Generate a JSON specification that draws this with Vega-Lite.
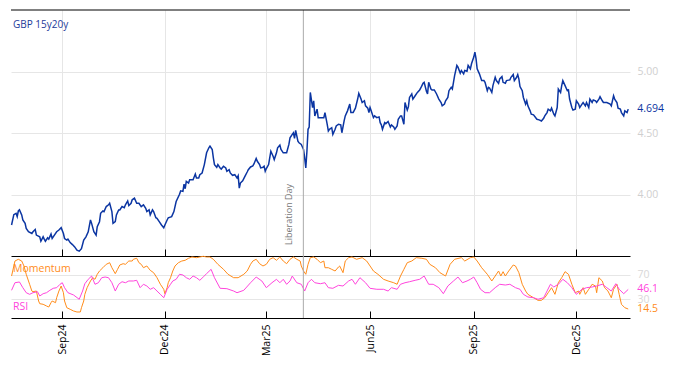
{
  "$schema": "https://vega.github.io/schema/vega-lite/v6.json",
  "padding": {"left": 8, "top": 9, "right": 5, "bottom": 5},
  "spacing": 0,
  "bounds": "flush",
  "config": {"view": {"stroke": null}, "font": "Open Sans"},
  "datasets": {
    "main": [
      {"date":"2024-07-18","v":3.752},{"date":"2024-07-20","v":3.836},{"date":"2024-07-22","v":3.847},{"date":"2024-07-23","v":3.820},{"date":"2024-07-24","v":3.866},{"date":"2024-07-25","v":3.875},{"date":"2024-07-27","v":3.834},{"date":"2024-07-28","v":3.793},{"date":"2024-07-30","v":3.765},{"date":"2024-07-31","v":3.724},
      {"date":"2024-08-02","v":3.697},{"date":"2024-08-05","v":3.683},{"date":"2024-08-06","v":3.697},{"date":"2024-08-08","v":3.716},{"date":"2024-08-09","v":3.670},{"date":"2024-08-12","v":3.656},{"date":"2024-08-13","v":3.620},{"date":"2024-08-15","v":3.656},{"date":"2024-08-16","v":3.637},{"date":"2024-08-17","v":3.620},{"date":"2024-08-19","v":3.648},{"date":"2024-08-20","v":3.637},{"date":"2024-08-22","v":3.678},{"date":"2024-08-23","v":3.642},{"date":"2024-08-25","v":3.670},{"date":"2024-08-27","v":3.697},{"date":"2024-08-29","v":3.711},{"date":"2024-08-31","v":3.730},
      {"date":"2024-09-02","v":3.683},{"date":"2024-09-03","v":3.642},{"date":"2024-09-05","v":3.629},{"date":"2024-09-06","v":3.637},{"date":"2024-09-08","v":3.609},{"date":"2024-09-10","v":3.593},{"date":"2024-09-12","v":3.574},{"date":"2024-09-14","v":3.547},{"date":"2024-09-16","v":3.539},{"date":"2024-09-18","v":3.560},{"date":"2024-09-20","v":3.629},{"date":"2024-09-22","v":3.656},{"date":"2024-09-24","v":3.697},{"date":"2024-09-26","v":3.793},{"date":"2024-09-27","v":3.765},{"date":"2024-09-29","v":3.697},
      {"date":"2024-10-01","v":3.670},{"date":"2024-10-02","v":3.738},{"date":"2024-10-04","v":3.779},{"date":"2024-10-05","v":3.847},{"date":"2024-10-07","v":3.866},{"date":"2024-10-08","v":3.861},{"date":"2024-10-10","v":3.902},{"date":"2024-10-12","v":3.916},{"date":"2024-10-13","v":3.929},{"date":"2024-10-15","v":3.861},{"date":"2024-10-16","v":3.765},{"date":"2024-10-18","v":3.779},{"date":"2024-10-19","v":3.834},{"date":"2024-10-21","v":3.875},{"date":"2024-10-22","v":3.875},{"date":"2024-10-24","v":3.902},{"date":"2024-10-26","v":3.893},{"date":"2024-10-27","v":3.916},{"date":"2024-10-29","v":3.948},{"date":"2024-10-30","v":3.910},
      {"date":"2024-11-01","v":3.929},{"date":"2024-11-02","v":3.957},{"date":"2024-11-04","v":3.970},{"date":"2024-11-06","v":3.929},{"date":"2024-11-08","v":3.929},{"date":"2024-11-10","v":3.902},{"date":"2024-11-12","v":3.916},{"date":"2024-11-14","v":3.888},{"date":"2024-11-15","v":3.861},{"date":"2024-11-17","v":3.875},{"date":"2024-11-18","v":3.834},{"date":"2024-11-20","v":3.875},{"date":"2024-11-21","v":3.861},{"date":"2024-11-23","v":3.811},{"date":"2024-11-24","v":3.806},{"date":"2024-11-26","v":3.779},{"date":"2024-11-28","v":3.752},{"date":"2024-11-30","v":3.730},
      {"date":"2024-12-01","v":3.752},{"date":"2024-12-03","v":3.793},{"date":"2024-12-04","v":3.811},{"date":"2024-12-07","v":3.820},{"date":"2024-12-09","v":3.861},{"date":"2024-12-11","v":3.943},{"date":"2024-12-14","v":4.002},{"date":"2024-12-15","v":4.030},{"date":"2024-12-17","v":4.025},{"date":"2024-12-18","v":4.084},{"date":"2024-12-19","v":4.047},{"date":"2024-12-20","v":4.107},{"date":"2024-12-22","v":4.093},{"date":"2024-12-23","v":4.120},{"date":"2024-12-26","v":4.120},{"date":"2024-12-28","v":4.166},{"date":"2024-12-29","v":4.134},{"date":"2024-12-31","v":4.134},
      {"date":"2025-01-01","v":4.161},{"date":"2025-01-03","v":4.175},{"date":"2025-01-05","v":4.243},{"date":"2025-01-07","v":4.339},{"date":"2025-01-09","v":4.380},{"date":"2025-01-10","v":4.393},{"date":"2025-01-12","v":4.366},{"date":"2025-01-13","v":4.298},{"date":"2025-01-14","v":4.243},{"date":"2025-01-16","v":4.221},{"date":"2025-01-17","v":4.243},{"date":"2025-01-19","v":4.216},{"date":"2025-01-20","v":4.207},{"date":"2025-01-22","v":4.230},{"date":"2025-01-24","v":4.216},{"date":"2025-01-25","v":4.189},{"date":"2025-01-27","v":4.202},{"date":"2025-01-28","v":4.175},{"date":"2025-01-30","v":4.156},
      {"date":"2025-02-01","v":4.161},{"date":"2025-02-03","v":4.134},{"date":"2025-02-04","v":4.153},{"date":"2025-02-05","v":4.052},{"date":"2025-02-06","v":4.093},{"date":"2025-02-08","v":4.112},{"date":"2025-02-10","v":4.148},{"date":"2025-02-12","v":4.183},{"date":"2025-02-13","v":4.202},{"date":"2025-02-15","v":4.224},{"date":"2025-02-17","v":4.232},{"date":"2025-02-18","v":4.248},{"date":"2025-02-20","v":4.293},{"date":"2025-02-21","v":4.270},{"date":"2025-02-23","v":4.243},{"date":"2025-02-24","v":4.216},{"date":"2025-02-26","v":4.221},{"date":"2025-02-27","v":4.230},{"date":"2025-02-28","v":4.189},
      {"date":"2025-03-01","v":4.211},{"date":"2025-03-03","v":4.243},{"date":"2025-03-04","v":4.298},{"date":"2025-03-05","v":4.352},{"date":"2025-03-07","v":4.311},{"date":"2025-03-08","v":4.284},{"date":"2025-03-10","v":4.339},{"date":"2025-03-11","v":4.380},{"date":"2025-03-13","v":4.402},{"date":"2025-03-14","v":4.366},{"date":"2025-03-16","v":4.339},{"date":"2025-03-18","v":4.339},{"date":"2025-03-19","v":4.339},{"date":"2025-03-21","v":4.407},{"date":"2025-03-22","v":4.461},{"date":"2025-03-24","v":4.489},{"date":"2025-03-25","v":4.502},{"date":"2025-03-26","v":4.457},{"date":"2025-03-27","v":4.522},{"date":"2025-03-29","v":4.434},{"date":"2025-03-30","v":4.420},
      {"date":"2025-04-01","v":4.407},{"date":"2025-04-03","v":4.366},{"date":"2025-04-04","v":4.298},{"date":"2025-04-05","v":4.216},{"date":"2025-04-06","v":4.352},{"date":"2025-04-07","v":4.530},{"date":"2025-04-08","v":4.549},{"date":"2025-04-09","v":4.830},{"date":"2025-04-11","v":4.707},{"date":"2025-04-12","v":4.762},{"date":"2025-04-13","v":4.639},{"date":"2025-04-15","v":4.694},{"date":"2025-04-16","v":4.625},{"date":"2025-04-18","v":4.625},{"date":"2025-04-21","v":4.625},{"date":"2025-04-22","v":4.666},{"date":"2025-04-24","v":4.571},{"date":"2025-04-25","v":4.516},{"date":"2025-04-26","v":4.530},{"date":"2025-04-28","v":4.543},{"date":"2025-04-29","v":4.489},
      {"date":"2025-05-01","v":4.530},{"date":"2025-05-02","v":4.557},{"date":"2025-05-04","v":4.571},{"date":"2025-05-06","v":4.566},{"date":"2025-05-07","v":4.502},{"date":"2025-05-09","v":4.598},{"date":"2025-05-10","v":4.639},{"date":"2025-05-12","v":4.680},{"date":"2025-05-14","v":4.735},{"date":"2025-05-15","v":4.666},{"date":"2025-05-17","v":4.666},{"date":"2025-05-19","v":4.702},{"date":"2025-05-21","v":4.776},{"date":"2025-05-22","v":4.822},{"date":"2025-05-24","v":4.776},{"date":"2025-05-25","v":4.748},{"date":"2025-05-27","v":4.762},{"date":"2025-05-28","v":4.721},{"date":"2025-05-30","v":4.702},{"date":"2025-05-31","v":4.666},
      {"date":"2025-06-01","v":4.707},{"date":"2025-06-02","v":4.680},{"date":"2025-06-04","v":4.625},{"date":"2025-06-05","v":4.639},{"date":"2025-06-07","v":4.625},{"date":"2025-06-09","v":4.631},{"date":"2025-06-10","v":4.584},{"date":"2025-06-11","v":4.566},{"date":"2025-06-12","v":4.530},{"date":"2025-06-14","v":4.584},{"date":"2025-06-15","v":4.576},{"date":"2025-06-17","v":4.593},{"date":"2025-06-19","v":4.549},{"date":"2025-06-20","v":4.566},{"date":"2025-06-22","v":4.549},{"date":"2025-06-23","v":4.530},{"date":"2025-06-25","v":4.557},{"date":"2025-06-26","v":4.612},{"date":"2025-06-28","v":4.639},{"date":"2025-06-29","v":4.639},
      {"date":"2025-07-01","v":4.571},{"date":"2025-07-02","v":4.748},{"date":"2025-07-04","v":4.686},{"date":"2025-07-05","v":4.713},{"date":"2025-07-06","v":4.789},{"date":"2025-07-08","v":4.817},{"date":"2025-07-09","v":4.776},{"date":"2025-07-11","v":4.803},{"date":"2025-07-13","v":4.830},{"date":"2025-07-15","v":4.850},{"date":"2025-07-16","v":4.866},{"date":"2025-07-18","v":4.904},{"date":"2025-07-19","v":4.912},{"date":"2025-07-21","v":4.839},{"date":"2025-07-22","v":4.817},{"date":"2025-07-23","v":4.912},{"date":"2025-07-25","v":4.858},{"date":"2025-07-26","v":4.850},{"date":"2025-07-28","v":4.850},{"date":"2025-07-30","v":4.817},
      {"date":"2025-08-01","v":4.776},{"date":"2025-08-03","v":4.748},{"date":"2025-08-04","v":4.721},{"date":"2025-08-06","v":4.735},{"date":"2025-08-07","v":4.762},{"date":"2025-08-09","v":4.789},{"date":"2025-08-10","v":4.844},{"date":"2025-08-12","v":4.871},{"date":"2025-08-13","v":4.858},{"date":"2025-08-14","v":4.912},{"date":"2025-08-15","v":4.967},{"date":"2025-08-17","v":5.049},{"date":"2025-08-18","v":5.035},{"date":"2025-08-20","v":4.986},{"date":"2025-08-21","v":5.008},{"date":"2025-08-23","v":4.981},{"date":"2025-08-24","v":5.008},{"date":"2025-08-26","v":5.002},{"date":"2025-08-27","v":5.049},{"date":"2025-08-29","v":5.022},{"date":"2025-08-30","v":5.063},
      {"date":"2025-09-01","v":5.117},{"date":"2025-09-02","v":5.158},{"date":"2025-09-03","v":5.104},{"date":"2025-09-04","v":5.022},{"date":"2025-09-06","v":4.981},{"date":"2025-09-08","v":4.926},{"date":"2025-09-10","v":4.926},{"date":"2025-09-11","v":4.912},{"date":"2025-09-13","v":4.844},{"date":"2025-09-14","v":4.871},{"date":"2025-09-15","v":4.866},{"date":"2025-09-17","v":4.830},{"date":"2025-09-18","v":4.885},{"date":"2025-09-20","v":4.953},{"date":"2025-09-21","v":4.926},{"date":"2025-09-23","v":4.904},{"date":"2025-09-24","v":4.940},{"date":"2025-09-26","v":4.959},{"date":"2025-09-27","v":4.912},{"date":"2025-09-29","v":4.904},{"date":"2025-09-30","v":4.926},
      {"date":"2025-10-03","v":4.932},{"date":"2025-10-04","v":4.953},{"date":"2025-10-06","v":4.975},{"date":"2025-10-07","v":4.926},{"date":"2025-10-09","v":4.953},{"date":"2025-10-10","v":4.975},{"date":"2025-10-11","v":4.940},{"date":"2025-10-12","v":4.877},{"date":"2025-10-14","v":4.844},{"date":"2025-10-15","v":4.789},{"date":"2025-10-17","v":4.735},{"date":"2025-10-18","v":4.762},{"date":"2025-10-19","v":4.721},{"date":"2025-10-21","v":4.680},{"date":"2025-10-22","v":4.653},{"date":"2025-10-24","v":4.648},{"date":"2025-10-27","v":4.612},{"date":"2025-10-29","v":4.607},{"date":"2025-10-31","v":4.598},
      {"date":"2025-11-02","v":4.620},{"date":"2025-11-03","v":4.639},{"date":"2025-11-05","v":4.666},{"date":"2025-11-06","v":4.694},{"date":"2025-11-08","v":4.680},{"date":"2025-11-09","v":4.702},{"date":"2025-11-11","v":4.653},{"date":"2025-11-12","v":4.639},{"date":"2025-11-14","v":4.707},{"date":"2025-11-15","v":4.858},{"date":"2025-11-17","v":4.830},{"date":"2025-11-18","v":4.885},{"date":"2025-11-19","v":4.926},{"date":"2025-11-21","v":4.885},{"date":"2025-11-23","v":4.844},{"date":"2025-11-24","v":4.850},{"date":"2025-11-25","v":4.776},{"date":"2025-11-27","v":4.707},{"date":"2025-11-28","v":4.686},{"date":"2025-11-30","v":4.694},
      {"date":"2025-12-01","v":4.762},{"date":"2025-12-03","v":4.735},{"date":"2025-12-04","v":4.707},{"date":"2025-12-06","v":4.735},{"date":"2025-12-07","v":4.748},{"date":"2025-12-09","v":4.721},{"date":"2025-12-10","v":4.748},{"date":"2025-12-12","v":4.707},{"date":"2025-12-13","v":4.776},{"date":"2025-12-15","v":4.748},{"date":"2025-12-16","v":4.768},{"date":"2025-12-18","v":4.762},{"date":"2025-12-19","v":4.748},{"date":"2025-12-21","v":4.776},{"date":"2025-12-22","v":4.795},{"date":"2025-12-24","v":4.762},{"date":"2025-12-25","v":4.748},{"date":"2025-12-28","v":4.748},{"date":"2025-12-31","v":4.735},
      {"date":"2026-01-01","v":4.721},{"date":"2026-01-03","v":4.803},{"date":"2026-01-04","v":4.776},{"date":"2026-01-06","v":4.748},{"date":"2026-01-07","v":4.702},{"date":"2026-01-09","v":4.694},{"date":"2026-01-10","v":4.666},{"date":"2026-01-12","v":4.639},{"date":"2026-01-13","v":4.680},{"date":"2026-01-15","v":4.666},{"date":"2026-01-16","v":4.694}
    ],
    "mom": [
      {"date":"2024-07-18","v":67.7},{"date":"2024-07-21","v":91.9},{"date":"2024-07-24","v":94.7},{"date":"2024-07-27","v":91.9},{"date":"2024-07-29","v":83.9},{"date":"2024-07-31","v":70.5},{"date":"2024-08-03","v":54.4},{"date":"2024-08-05","v":43.5},{"date":"2024-08-06","v":42.4},{"date":"2024-08-09","v":43.5},{"date":"2024-08-11","v":27.4},{"date":"2024-08-12","v":23.1},{"date":"2024-08-15","v":22.1},{"date":"2024-08-18","v":19.4},{"date":"2024-08-20","v":17.7},{"date":"2024-08-22","v":24.7},{"date":"2024-08-23","v":27.4},{"date":"2024-08-26","v":24.7},{"date":"2024-08-27","v":32.7},{"date":"2024-08-29","v":43.5},{"date":"2024-08-31","v":51.6},
      {"date":"2024-09-02","v":40.8},{"date":"2024-09-03","v":27.4},{"date":"2024-09-05","v":16.6},{"date":"2024-09-08","v":14.0},{"date":"2024-09-11","v":11.3},{"date":"2024-09-14","v":9.7},{"date":"2024-09-17","v":9.7},{"date":"2024-09-18","v":16.6},{"date":"2024-09-20","v":27.4},{"date":"2024-09-21","v":38.2},{"date":"2024-09-23","v":48.9},{"date":"2024-09-26","v":59.7},{"date":"2024-09-28","v":65.0},{"date":"2024-09-30","v":62.4},
      {"date":"2024-10-02","v":70.5},{"date":"2024-10-04","v":75.8},{"date":"2024-10-07","v":81.1},{"date":"2024-10-10","v":86.6},{"date":"2024-10-13","v":89.2},{"date":"2024-10-15","v":81.1},{"date":"2024-10-18","v":71.5},{"date":"2024-10-20","v":78.5},{"date":"2024-10-22","v":85.5},{"date":"2024-10-25","v":87.6},{"date":"2024-10-27","v":86.6},{"date":"2024-10-30","v":91.9},
      {"date":"2024-11-02","v":91.9},{"date":"2024-11-03","v":94.7},{"date":"2024-11-06","v":96.3},{"date":"2024-11-08","v":89.2},{"date":"2024-11-10","v":86.6},{"date":"2024-11-12","v":81.1},{"date":"2024-11-15","v":83.9},{"date":"2024-11-18","v":76.9},{"date":"2024-11-21","v":73.1},{"date":"2024-11-24","v":65.0},{"date":"2024-11-27","v":54.4},{"date":"2024-11-30","v":46.3},
      {"date":"2024-12-01","v":39.2},{"date":"2024-12-03","v":48.9},{"date":"2024-12-04","v":56.9},{"date":"2024-12-06","v":65.0},{"date":"2024-12-08","v":75.8},{"date":"2024-12-10","v":83.9},{"date":"2024-12-13","v":89.2},{"date":"2024-12-16","v":91.9},{"date":"2024-12-19","v":93.1},{"date":"2024-12-22","v":96.3},{"date":"2024-12-25","v":98.4},{"date":"2024-12-29","v":97.3},
      {"date":"2025-01-01","v":98.4},{"date":"2025-01-04","v":99.5},{"date":"2025-01-07","v":98.4},{"date":"2025-01-10","v":98.4},{"date":"2025-01-13","v":94.7},{"date":"2025-01-17","v":86.6},{"date":"2025-01-22","v":78.5},{"date":"2025-01-26","v":70.5},{"date":"2025-01-31","v":65.0},
      {"date":"2025-02-04","v":65.0},{"date":"2025-02-09","v":70.5},{"date":"2025-02-12","v":75.8},{"date":"2025-02-15","v":86.6},{"date":"2025-02-17","v":91.9},{"date":"2025-02-20","v":94.7},{"date":"2025-02-23","v":87.6},{"date":"2025-02-26","v":83.9},
      {"date":"2025-03-01","v":86.6},{"date":"2025-03-04","v":94.7},{"date":"2025-03-07","v":97.3},{"date":"2025-03-10","v":93.1},{"date":"2025-03-13","v":98.4},{"date":"2025-03-16","v":91.9},{"date":"2025-03-19","v":87.6},{"date":"2025-03-22","v":94.7},{"date":"2025-03-25","v":98.4},{"date":"2025-03-28","v":94.7},{"date":"2025-03-31","v":91.9},
      {"date":"2025-04-01","v":83.9},{"date":"2025-04-03","v":75.8},{"date":"2025-04-05","v":70.5},{"date":"2025-04-07","v":86.6},{"date":"2025-04-09","v":97.3},{"date":"2025-04-12","v":98.4},{"date":"2025-04-15","v":94.7},{"date":"2025-04-18","v":89.2},{"date":"2025-04-21","v":91.9},{"date":"2025-04-22","v":81.1},{"date":"2025-04-25","v":81.1},{"date":"2025-04-28","v":78.5},
      {"date":"2025-05-01","v":75.8},{"date":"2025-05-04","v":82.3},{"date":"2025-05-05","v":83.9},{"date":"2025-05-08","v":73.1},{"date":"2025-05-10","v":91.9},{"date":"2025-05-13","v":97.3},{"date":"2025-05-16","v":98.4},{"date":"2025-05-20","v":94.7},{"date":"2025-05-25","v":97.3},{"date":"2025-05-29","v":91.9},
      {"date":"2025-06-01","v":83.9},{"date":"2025-06-04","v":75.8},{"date":"2025-06-08","v":70.5},{"date":"2025-06-13","v":62.4},{"date":"2025-06-17","v":59.7},{"date":"2025-06-22","v":56.9},{"date":"2025-06-25","v":54.4},{"date":"2025-06-28","v":67.7},
      {"date":"2025-07-01","v":78.5},{"date":"2025-07-04","v":89.2},{"date":"2025-07-08","v":91.9},{"date":"2025-07-12","v":97.3},{"date":"2025-07-17","v":96.3},{"date":"2025-07-21","v":94.7},{"date":"2025-07-24","v":86.6},{"date":"2025-07-29","v":81.1},
      {"date":"2025-08-02","v":73.1},{"date":"2025-08-07","v":67.7},{"date":"2025-08-11","v":86.6},{"date":"2025-08-15","v":94.7},{"date":"2025-08-21","v":97.3},{"date":"2025-08-24","v":91.9},{"date":"2025-08-29","v":97.3},
      {"date":"2025-09-01","v":98.4},{"date":"2025-09-04","v":91.9},{"date":"2025-09-08","v":81.1},{"date":"2025-09-13","v":70.5},{"date":"2025-09-17","v":59.7},{"date":"2025-09-20","v":67.7},{"date":"2025-09-23","v":75.8},{"date":"2025-09-25","v":67.7},{"date":"2025-09-27","v":74.7},{"date":"2025-09-29","v":67.7},
      {"date":"2025-10-02","v":75.8},{"date":"2025-10-06","v":85.5},{"date":"2025-10-08","v":83.9},{"date":"2025-10-11","v":73.1},{"date":"2025-10-14","v":54.4},{"date":"2025-10-17","v":43.5},{"date":"2025-10-19","v":38.2},{"date":"2025-10-24","v":32.7},{"date":"2025-10-28","v":28.5},{"date":"2025-10-31","v":28.5},
      {"date":"2025-11-03","v":32.7},{"date":"2025-11-06","v":40.8},{"date":"2025-11-09","v":48.9},{"date":"2025-11-12","v":38.2},{"date":"2025-11-15","v":56.9},{"date":"2025-11-18","v":65.0},{"date":"2025-11-21","v":74.7},{"date":"2025-11-24","v":70.5},{"date":"2025-11-27","v":54.4},{"date":"2025-11-30","v":40.8},
      {"date":"2025-12-03","v":43.5},{"date":"2025-12-04","v":38.2},{"date":"2025-12-07","v":48.9},{"date":"2025-12-09","v":38.2},{"date":"2025-12-12","v":46.3},{"date":"2025-12-15","v":54.4},{"date":"2025-12-18","v":51.6},{"date":"2025-12-19","v":40.8},{"date":"2025-12-21","v":65.0},{"date":"2025-12-24","v":59.7},{"date":"2025-12-26","v":48.9},{"date":"2025-12-29","v":43.5},
      {"date":"2026-01-01","v":32.7},{"date":"2026-01-03","v":46.3},{"date":"2026-01-06","v":54.4},{"date":"2026-01-08","v":38.2},{"date":"2026-01-10","v":22.1},{"date":"2026-01-13","v":16.6},{"date":"2026-01-16","v":14.5}
    ],
    "rsi": [
      {"date":"2024-07-18","v":44.7},{"date":"2024-07-21","v":56.9},{"date":"2024-07-25","v":58.1},{"date":"2024-07-28","v":48.9},{"date":"2024-07-31","v":40.8},{"date":"2024-08-03","v":38.2},{"date":"2024-08-06","v":40.8},{"date":"2024-08-10","v":42.4},{"date":"2024-08-12","v":35.5},{"date":"2024-08-15","v":39.2},{"date":"2024-08-18","v":40.8},{"date":"2024-08-21","v":44.7},{"date":"2024-08-24","v":47.9},{"date":"2024-08-27","v":48.9},{"date":"2024-08-30","v":54.4},
      {"date":"2024-09-01","v":56.9},{"date":"2024-09-03","v":48.9},{"date":"2024-09-06","v":40.8},{"date":"2024-09-11","v":37.1},{"date":"2024-09-16","v":30.2},{"date":"2024-09-19","v":43.5},{"date":"2024-09-21","v":55.3},{"date":"2024-09-24","v":62.4},{"date":"2024-09-27","v":67.7},{"date":"2024-09-30","v":54.4},
      {"date":"2024-10-03","v":56.9},{"date":"2024-10-06","v":65.0},{"date":"2024-10-09","v":66.1},{"date":"2024-10-12","v":65.0},{"date":"2024-10-15","v":56.9},{"date":"2024-10-18","v":43.5},{"date":"2024-10-21","v":54.4},{"date":"2024-10-24","v":58.5},{"date":"2024-10-27","v":56.9},{"date":"2024-10-30","v":59.7},
      {"date":"2024-11-03","v":59.7},{"date":"2024-11-06","v":60.8},{"date":"2024-11-09","v":48.9},{"date":"2024-11-12","v":54.4},{"date":"2024-11-15","v":51.6},{"date":"2024-11-18","v":46.3},{"date":"2024-11-21","v":48.9},{"date":"2024-11-24","v":43.5},{"date":"2024-11-27","v":38.2},{"date":"2024-11-30","v":32.7},
      {"date":"2024-12-03","v":46.3},{"date":"2024-12-06","v":54.4},{"date":"2024-12-08","v":59.7},{"date":"2024-12-11","v":62.4},{"date":"2024-12-14","v":70.5},{"date":"2024-12-17","v":69.4},{"date":"2024-12-20","v":65.0},{"date":"2024-12-23","v":62.4},{"date":"2024-12-26","v":67.7},{"date":"2024-12-29","v":65.0},
      {"date":"2025-01-01","v":60.8},{"date":"2025-01-04","v":66.1},{"date":"2025-01-07","v":71.5},{"date":"2025-01-11","v":78.5},{"date":"2025-01-14","v":65.0},{"date":"2025-01-19","v":47.9},{"date":"2025-01-25","v":47.3},{"date":"2025-01-31","v":43.5},
      {"date":"2025-02-03","v":40.8},{"date":"2025-02-09","v":44.7},{"date":"2025-02-15","v":56.9},{"date":"2025-02-20","v":66.1},{"date":"2025-02-25","v":59.7},
      {"date":"2025-03-01","v":48.9},{"date":"2025-03-06","v":56.9},{"date":"2025-03-10","v":62.4},{"date":"2025-03-13","v":56.9},{"date":"2025-03-16","v":62.4},{"date":"2025-03-19","v":54.4},{"date":"2025-03-22","v":59.7},{"date":"2025-03-24","v":67.7},{"date":"2025-03-28","v":56.9},
      {"date":"2025-04-01","v":54.4},{"date":"2025-04-04","v":43.5},{"date":"2025-04-07","v":56.9},{"date":"2025-04-10","v":62.4},{"date":"2025-04-13","v":56.9},{"date":"2025-04-18","v":55.3},{"date":"2025-04-22","v":56.9},{"date":"2025-04-25","v":48.9},{"date":"2025-04-29","v":47.9},
      {"date":"2025-05-04","v":52.7},{"date":"2025-05-08","v":51.6},{"date":"2025-05-13","v":59.7},{"date":"2025-05-16","v":62.4},{"date":"2025-05-19","v":54.4},{"date":"2025-05-23","v":65.0},{"date":"2025-05-28","v":56.9},
      {"date":"2025-06-01","v":47.9},{"date":"2025-06-07","v":46.3},{"date":"2025-06-13","v":46.3},{"date":"2025-06-17","v":43.5},{"date":"2025-06-20","v":48.9},{"date":"2025-06-25","v":46.3},{"date":"2025-06-28","v":54.4},
      {"date":"2025-07-02","v":56.9},{"date":"2025-07-06","v":58.5},{"date":"2025-07-11","v":60.8},{"date":"2025-07-15","v":62.4},{"date":"2025-07-19","v":67.7},{"date":"2025-07-23","v":54.4},{"date":"2025-07-27","v":54.4},
      {"date":"2025-08-01","v":48.9},{"date":"2025-08-05","v":39.2},{"date":"2025-08-09","v":51.6},{"date":"2025-08-14","v":59.7},{"date":"2025-08-18","v":66.1},{"date":"2025-08-22","v":56.9},{"date":"2025-08-26","v":59.7},{"date":"2025-08-29","v":62.4},
      {"date":"2025-09-01","v":66.1},{"date":"2025-09-04","v":56.9},{"date":"2025-09-07","v":46.3},{"date":"2025-09-11","v":40.8},{"date":"2025-09-15","v":40.8},{"date":"2025-09-20","v":48.9},{"date":"2025-09-24","v":54.4},{"date":"2025-09-29","v":53.2},
      {"date":"2025-10-03","v":54.4},{"date":"2025-10-08","v":48.9},{"date":"2025-10-12","v":46.3},{"date":"2025-10-15","v":38.2},{"date":"2025-10-19","v":33.9},{"date":"2025-10-24","v":32.7},{"date":"2025-10-28","v":30.2},
      {"date":"2025-11-02","v":32.7},{"date":"2025-11-05","v":43.5},{"date":"2025-11-08","v":54.4},{"date":"2025-11-11","v":50.0},{"date":"2025-11-15","v":54.4},{"date":"2025-11-19","v":62.4},{"date":"2025-11-23","v":56.9},{"date":"2025-11-27","v":48.9},
      {"date":"2025-12-01","v":38.2},{"date":"2025-12-06","v":46.3},{"date":"2025-12-10","v":48.9},{"date":"2025-12-15","v":50.0},{"date":"2025-12-19","v":51.6},{"date":"2025-12-24","v":54.4},{"date":"2025-12-28","v":48.9},
      {"date":"2026-01-01","v":43.5},{"date":"2026-01-05","v":55.3},{"date":"2026-01-08","v":46.3},{"date":"2026-01-12","v":39.2},{"date":"2026-01-16","v":46.1}
    ],
    "events": [{"date":"2025-04-02T20:00:00Z","label":"Liberation Day"}],
    "lastMain": [{"date":"2026-01-16","v":4.694}],
    "lastOsc": [{"date":"2026-01-16","s":"RSI","v":46.1},{"date":"2026-01-16","s":"Momentum","v":14.5}]
  },
  "vconcat": [
    {
      "width": 619,
      "height": 246,
      "layer": [
        {
          "data": {"name": "main"},
          "mark": {"type": "line", "color": "#0b35a2", "strokeWidth": 1.5},
          "encoding": {
            "x": {"field": "date", "type": "temporal",
              "scale": {"type": "utc", "domain": [{"year":2024,"month":7,"date":17,"hours":12,"utc":true},{"year":2026,"month":1,"date":17,"hours":14,"utc":true}]},
              "axis": {"orient": "bottom", "title": null, "labels": false, "ticks": true, "tickSize": -7, "tickColor": "#000", "domainColor": "#000", "grid": true, "gridColor": "#e6e6e6",
                "values": [{"year":2024,"month":9,"date":1,"utc":true},{"year":2024,"month":12,"date":1,"utc":true},{"year":2025,"month":3,"date":1,"utc":true},{"year":2025,"month":6,"date":1,"utc":true},{"year":2025,"month":9,"date":1,"utc":true},{"year":2025,"month":12,"date":1,"utc":true}]}},
            "y": {"field": "v", "type": "quantitative",
              "scale": {"domain": [3.5, 5.5], "nice": false, "zero": false},
              "axis": {"orient": "right", "title": null, "values": [4, 4.5, 5], "format": ".2f", "grid": true, "gridColor": "#e6e6e6", "domain": false, "ticks": false, "labelPadding": 7, "labelColor": "#cfcfcf", "labelFontSize": 10.5}}
          }
        },
        {
          "data": {"name": "events"},
          "mark": {"type": "rule", "color": "#aaaaaa", "strokeWidth": 1},
          "encoding": {"x": {"field": "date", "type": "temporal"}}
        },
        {
          "data": {"name": "events"},
          "mark": {"type": "text", "angle": 270, "align": "left", "baseline": "bottom", "dy": -9, "fontSize": 9, "color": "#777777"},
          "encoding": {"x": {"field": "date", "type": "temporal"}, "y": {"datum": 3.59}, "text": {"field": "label"}}
        },
        {
          "data": {"values": [{}]},
          "mark": {"type": "rule", "color": "#000000", "strokeWidth": 1},
          "encoding": {"y": {"datum": 5.5}}
        },
        {
          "data": {"values": [{}]},
          "mark": {"type": "text", "align": "left", "baseline": "middle", "dx": 2, "fontSize": 10, "color": "#1d3b9a", "text": "GBP 15y20y"},
          "encoding": {"x": {"datum": {"year":2024,"month":7,"date":17,"hours":12,"utc":true}, "type": "temporal"}, "y": {"datum": 5.377}}
        },
        {
          "data": {"name": "lastMain"},
          "mark": {"type": "text", "align": "left", "baseline": "middle", "dx": 9, "fontSize": 10.5, "color": "#0b35a2"},
          "encoding": {"x": {"field": "date", "type": "temporal"}, "y": {"field": "v", "type": "quantitative"}, "text": {"field": "v", "type": "quantitative", "format": ".3f"}}
        }
      ]
    },
    {
      "width": 619,
      "height": 62,
      "layer": [
        {
          "data": {"name": "mom"},
          "mark": {"type": "line", "color": "#ff8c1a", "strokeWidth": 1},
          "encoding": {
            "x": {"field": "date", "type": "temporal",
              "scale": {"type": "utc", "domain": [{"year":2024,"month":7,"date":17,"hours":12,"utc":true},{"year":2026,"month":1,"date":17,"hours":14,"utc":true}]},
              "axis": {"orient": "bottom", "title": null, "labelExpr": "utcFormat(datum.value, '%b%y')", "labelAngle": -90, "labelFontSize": 10.5, "labelColor": "#000", "labelPadding": 13, "tickSize": -7, "tickColor": "#000", "domainColor": "#000", "grid": false,
                "values": [{"year":2024,"month":9,"date":1,"utc":true},{"year":2024,"month":12,"date":1,"utc":true},{"year":2025,"month":3,"date":1,"utc":true},{"year":2025,"month":6,"date":1,"utc":true},{"year":2025,"month":9,"date":1,"utc":true},{"year":2025,"month":12,"date":1,"utc":true}]}},
            "y": {"field": "v", "type": "quantitative",
              "scale": {"domain": [0, 100], "nice": false},
              "axis": {"orient": "right", "title": null, "values": [30, 70], "grid": true, "gridColor": "#e6e6e6", "domain": false, "ticks": false, "labelPadding": 7, "labelColor": "#d8d8d8", "labelFontSize": 10.5}}
          }
        },
        {
          "data": {"name": "rsi"},
          "mark": {"type": "line", "color": "#ff45dd", "strokeWidth": 1},
          "encoding": {"x": {"field": "date", "type": "temporal"}, "y": {"field": "v", "type": "quantitative"}}
        },
        {
          "data": {"name": "events"},
          "mark": {"type": "rule", "color": "#aaaaaa", "strokeWidth": 1},
          "encoding": {"x": {"field": "date", "type": "temporal"}}
        },
        {
          "data": {"values": [{}]},
          "mark": {"type": "text", "align": "left", "baseline": "middle", "dx": 2, "fontSize": 10.5, "color": "#ff8c1a", "text": "Momentum"},
          "encoding": {"x": {"datum": {"year":2024,"month":7,"date":17,"hours":12,"utc":true}, "type": "temporal"}, "y": {"datum": 79.8}}
        },
        {
          "data": {"values": [{}]},
          "mark": {"type": "text", "align": "left", "baseline": "middle", "dx": 2, "fontSize": 10.5, "color": "#ff45dd", "text": "RSI"},
          "encoding": {"x": {"datum": {"year":2024,"month":7,"date":17,"hours":12,"utc":true}, "type": "temporal"}, "y": {"datum": 18.5}}
        },
        {
          "data": {"name": "lastOsc"},
          "mark": {"type": "text", "align": "left", "baseline": "middle", "dx": 9, "fontSize": 10.5},
          "encoding": {
            "x": {"field": "date", "type": "temporal"},
            "y": {"field": "v", "type": "quantitative"},
            "text": {"field": "v", "type": "quantitative", "format": ".1f"},
            "color": {"field": "s", "type": "nominal", "scale": {"domain": ["Momentum", "RSI"], "range": ["#ff8c1a", "#ff45dd"]}, "legend": null}
          }
        }
      ]
    }
  ]
}
